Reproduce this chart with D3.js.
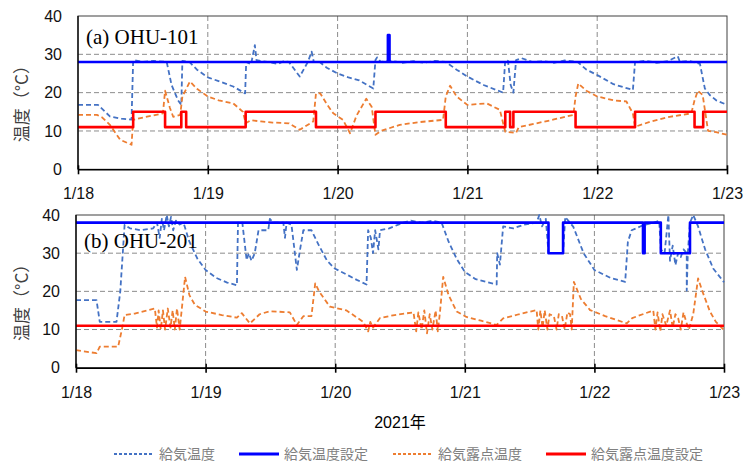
<!DOCTYPE html>
<html>
<head>
<meta charset="utf-8">
<script src="https://cdn.jsdelivr.net/npm/d3@7"></script>
<style>
  body { margin: 0; background: #fff; }
  svg { display: block; }
</style>
</head>
<body>
<svg width="743" height="464"></svg>
<script>
// ---- data: [hours since 1/18 0:00, °C] ----
const xTickHours = [0, 24, 48, 72, 96, 120];
const xTickLabels = ["1/18", "1/19", "1/20", "1/21", "1/22", "1/23"];
const yTicks = [0, 10, 20, 30, 40];
const seriesNames = ["給気温度", "給気温度設定", "給気露点温度", "給気露点温度設定"];
const panelTitles = ["(a) OHU-101", "(b) OHU-201"];

// (a) OHU-101
const supplyTempA = [[0,16.8],[3.7,16.8],[5.9,13.8],[8,13.2],[9.9,13],[10.2,28.5],[12,28],[14,28.3],[16.4,28],[17.3,22],[18.5,18],[19.1,16.8],[19.3,28.3],[20.6,28],[22,26],[24,24],[26,23],[28.7,21.6],[30.9,19.8],[31.1,28],[32,27.4],[32.7,32.4],[33,28.5],[35,28],[37,27.5],[38,28.2],[39,28],[41,24.2],[42.5,28],[43.2,30.7],[43.6,28],[44.7,28],[46,26.5],[48,25],[50,24],[52,23.2],[54.6,21.1],[55,28.5],[55.3,29.2],[56,28],[58,28.3],[60,27.8],[62,28.2],[64,27.8],[66,28.3],[68,28],[70,26],[72,24.2],[75,22],[78.6,20],[79,28.5],[79.5,28.3],[80,22],[80.5,20],[81,28.5],[82,29],[84,28],[86,28.2],[88,27.8],[90,28.4],[92.4,28],[94,26],[96,24.6],[99,22.2],[102.6,20.7],[103,28],[105,28.3],[107,27.8],[109,28.2],[110.9,29.5],[111.3,28],[113,28.3],[115,27.5],[115.9,21.1],[116.8,19.4],[118,18],[120,16.8]];
const setTempA = [[0,28],[57.3,35],[57.6,28],[120,28]];
const dewTempA = [[0,14.2],[3.5,14.2],[4.5,13.5],[5.9,11.6],[7.8,7.7],[9.9,6.4],[10.2,12.9],[12,13.5],[15.7,14.6],[16.1,20.5],[17,16],[17.6,13.7],[18.9,14.2],[19.3,19],[20.7,22.9],[22,21],[24,19],[26,18],[28.7,17.2],[30.5,15],[31,12],[32,12.8],[33.8,12.5],[36,12.2],[39,12],[41,10.3],[43.5,12.5],[44,19.8],[44.8,19.8],[46,17],[47.2,14.6],[49,12.9],[50.3,9.4],[51.5,14],[53.3,18.4],[54.3,16.3],[55,9],[56,10],[59.5,11.6],[63,12.3],[67.5,12.9],[68,19],[68.8,21.8],[70,19],[72,16.8],[75.6,17.2],[78,15.5],[79,9.8],[81,9.5],[81.5,11],[84.8,12],[88,13],[91.6,14.2],[92,19],[92.5,22.4],[94,20.5],[96,19],[99,18],[101.4,17.7],[102.6,14.6],[103,11.1],[106,12.5],[109.4,13.7],[113.4,14.6],[114,18],[114.6,20.5],[115.5,19.4],[116.5,10],[118,9.7],[120,9]];
const setDewA = [[0,11],[10.2,15],[16.1,11],[19.1,15],[20,11],[31,15],[44,11],[55,15],[68,11],[79,15],[79.9,11],[80.5,15],[92,11],[103,15],[114,11],[115.6,15],[120,15]];

// (b) OHU-201
const supplyTempB = [[0,17.7],[3.8,17.7],[4.4,12],[7.5,12],[8.2,20],[9,37.4],[10,36.5],[12,36],[14.3,36.5],[15,38],[15.5,34],[15.9,39],[16.3,36],[16.8,40],[17.2,37],[17.6,39.5],[18,36],[18.5,38.5],[19.2,37.5],[19.9,38],[21,33],[22.5,28.5],[24,25.6],[26,23.5],[28,22.3],[29.8,21.6],[30,38],[30.8,38],[31.6,28.2],[32,30],[32.5,28],[33.1,30],[33.8,36],[35.6,36],[35.9,39],[36.5,38],[38.4,38],[38.7,34],[39,38],[39.9,37.5],[40.9,25.6],[41.5,31],[42.1,36],[43.6,36],[45,32],[46.5,28],[47.9,26],[50,24.5],[52,23],[53.8,21.8],[54.1,36],[54.6,34],[55,30],[55.4,36],[56,31],[56.3,36],[58,36.5],[60.6,38],[62,38.5],[64,38],[66,38.5],[67.7,38],[69,33],[70.5,28.5],[72,25.1],[74,23.2],[77.9,21.8],[78,30],[78.5,27],[79.1,37],[81,36.5],[83,37.5],[85.3,38],[85.8,40],[86.3,37],[87,39],[87.5,30],[90.2,30],[90.6,39.5],[92.1,36.9],[94,30],[96,25.6],[99,23.5],[101.7,22.5],[102.2,33],[102.9,36],[104.5,37],[105.5,37.5],[107,38],[108,38.5],[108.3,31],[109,30],[109.7,40],[110,28],[110.5,32],[111,26.9],[111.5,30],[112,29],[112.5,31],[113.1,30],[113.1,20.2],[113.3,30],[113.7,38],[114.3,40],[115.2,37],[116.5,31],[118,26],[120,22.4]];
const setTempB = [[0,38],[87.5,30],[90.2,38],[105,30],[105.3,38],[108.3,30],[113.7,38],[120,38]];
const dewTempB = [[0,4.6],[3.8,3.8],[4.4,5.5],[7.8,5.5],[8.5,10],[9,13.8],[11,14.2],[14.6,15.5],[15,10.5],[15.3,15],[15.7,10],[16.1,15],[16.5,10],[17,15.5],[17.5,10.5],[17.9,15],[18.3,10],[18.7,15.5],[19.2,10],[19.6,15.5],[20.2,23.8],[21,19],[22,16.5],[24,14.7],[27,13.8],[29.8,13.1],[30.7,14.3],[32.2,11.6],[34,14],[35.9,14.8],[39.6,14.5],[40.9,11.2],[42.1,13.5],[43.6,13.5],[44.3,22.1],[45,20],[47,16],[50.1,15],[53.2,12],[54.1,9.5],[54.5,12],[55,10.5],[56.3,13],[59,13.8],[62.5,14.5],[63,9.5],[63.4,14.5],[64,10],[64.5,15],[65,9],[65.5,14],[66,10],[66.6,15],[67,9.5],[67.4,14.5],[68,23.8],[69,19],[70.5,14.7],[72.3,13.3],[75,12.3],[77.9,11.2],[79.1,12.9],[82,14],[85.3,15.1],[85.6,10],[86,15],[86.4,10.5],[86.8,15],[87.3,10],[87.7,14],[88.5,13.5],[89,10],[89.4,14],[90,13.5],[90.5,10],[91,14.5],[91.5,14],[91.8,10],[92.2,22.5],[93.5,18],[95.2,15.1],[98,13.5],[102,11.6],[103,13],[106.9,15],[107.3,10],[107.7,14.5],[108.2,9.5],[108.6,14],[109.3,11],[110,15],[110.5,10.5],[111,14],[111.5,13],[112,10],[112.5,14.5],[113,12],[113.5,10],[114.3,14],[115.2,23.4],[116,20],[117.4,14.7],[118.5,12],[120,9.9]];
const setDewB = [[0,11],[120,11]];

// ---- layout / styles ----
const svg = d3.select("svg");
const sansFont = "'Liberation Sans', 'Noto Sans CJK JP', sans-serif";
const jpFont = "'Noto Sans CJK JP', sans-serif";

const panels = [
  { title: panelTitles[0], left: 78, right: 727, top: 16, bottom: 169.3, titleY: 44,
    series: [supplyTempA, setTempA, dewTempA, setDewA] },
  { title: panelTitles[1], left: 76, right: 724, top: 215, bottom: 367.7, titleY: 248,
    series: [supplyTempB, setTempB, dewTempB, setDewB] }
];

const styles = [
  { color: "#4472C4", width: 1.8, dash: "5,3", curve: d3.curveLinear },
  { color: "#0000FF", width: 2.6, dash: null, curve: d3.curveStepAfter },
  { color: "#ED7D31", width: 1.8, dash: "5,3", curve: d3.curveLinear },
  { color: "#FF0000", width: 2.6, dash: null, curve: d3.curveStepAfter }
];

const drawPanel = p => {
  const x = d3.scaleLinear().domain([0, 120]).range([p.left, p.right]);
  const y = d3.scaleLinear().domain([0, 40]).range([p.bottom, p.top]);
  const g = svg.append("g");

  // grid
  g.append("g").selectAll("line")
    .data(yTicks.filter(v => v > 0 && v < 40))
    .enter().append("line")
    .attr("x1", p.left).attr("x2", p.right)
    .attr("y1", d => y(d)).attr("y2", d => y(d))
    .attr("stroke", "#8c8c8c").attr("stroke-dasharray", "5,3");
  g.append("g").selectAll("line")
    .data(xTickHours.filter(h => h > 0 && h < 120))
    .enter().append("line")
    .attr("x1", d => x(d)).attr("x2", d => x(d))
    .attr("y1", p.top).attr("y2", p.bottom)
    .attr("stroke", "#8c8c8c").attr("stroke-dasharray", "5,3");

  // frame
  g.append("rect")
    .attr("x", p.left).attr("y", p.top)
    .attr("width", p.right - p.left).attr("height", p.bottom - p.top)
    .attr("fill", "none").attr("stroke", "#404040").attr("stroke-width", 1);

  // series
  p.series.forEach((data, i) => {
    const s = styles[i];
    const line = d3.line().x(d => x(d[0])).y(d => y(d[1])).curve(s.curve);
    g.append("path")
      .datum(data)
      .attr("fill", "none")
      .attr("stroke", s.color)
      .attr("stroke-width", s.width)
      .attr("stroke-dasharray", s.dash)
      .attr("stroke-linejoin", "round")
      .attr("d", line);
  });

  // left axis line
  g.append("line")
    .attr("x1", p.left).attr("x2", p.left)
    .attr("y1", p.top).attr("y2", p.bottom)
    .attr("stroke", "#000").attr("stroke-width", 1.3);

  // y tick labels
  const yAxis = g.append("g")
    .attr("transform", `translate(${p.left},0)`)
    .call(d3.axisLeft(y).tickValues(yTicks).tickSize(0).tickPadding(16));
  yAxis.select(".domain").remove();
  yAxis.selectAll("text")
    .style("font-family", sansFont).style("font-size", "16px").attr("fill", "#111");

  // x axis
  const xAxis = g.append("g")
    .attr("transform", `translate(0,${p.bottom})`)
    .call(d3.axisBottom(x).tickValues(xTickHours).tickFormat((d, i) => xTickLabels[i]).tickSizeOuter(0));
  xAxis.select(".domain").attr("stroke", "#000").attr("stroke-width", 1.6);
  xAxis.selectAll(".tick line").attr("y1", -4).attr("y2", 5).attr("stroke", "#000").attr("stroke-width", 1.6);
  xAxis.selectAll(".tick text")
    .attr("y", 30).attr("dy", null)
    .style("font-family", sansFont).style("font-size", "16px").attr("fill", "#111");

  // title
  g.append("text")
    .attr("x", p.left + 8).attr("y", p.titleY)
    .style("font-family", "'Liberation Serif', 'Times New Roman', serif")
    .style("font-size", "21px")
    .attr("fill", "#000")
    .text(p.title);

  // y label
  const cy = (p.top + p.bottom) / 2 + 7;
  g.append("text")
    .attr("transform", `translate(28,${cy}) rotate(-90)`)
    .attr("text-anchor", "middle")
    .style("font-family", jpFont).style("font-size", "17px")
    .attr("fill", "#404040")
    .text("温度（°C）");
};

panels.forEach(drawPanel);

// x-axis title
svg.append("text")
  .attr("x", 400).attr("y", 428)
  .attr("text-anchor", "middle")
  .style("font-family", sansFont).style("font-size", "16px")
  .attr("fill", "#000")
  .text("2021年");

// legend
const legendX = [114, 239, 393, 546];
const legend = svg.append("g").attr("transform", "translate(0,454)");
seriesNames.forEach((name, i) => {
  const s = styles[i];
  legend.append("line")
    .attr("x1", legendX[i]).attr("x2", legendX[i] + 40)
    .attr("y1", 0).attr("y2", 0)
    .attr("stroke", s.color)
    .attr("stroke-width", s.dash ? 1.8 : 3)
    .attr("stroke-dasharray", s.dash ? "3,2" : null);
  legend.append("text")
    .attr("x", legendX[i] + 45).attr("y", 5)
    .style("font-family", jpFont).style("font-size", "14px")
    .attr("fill", "#808080")
    .text(name);
});
</script>
</body>
</html>
